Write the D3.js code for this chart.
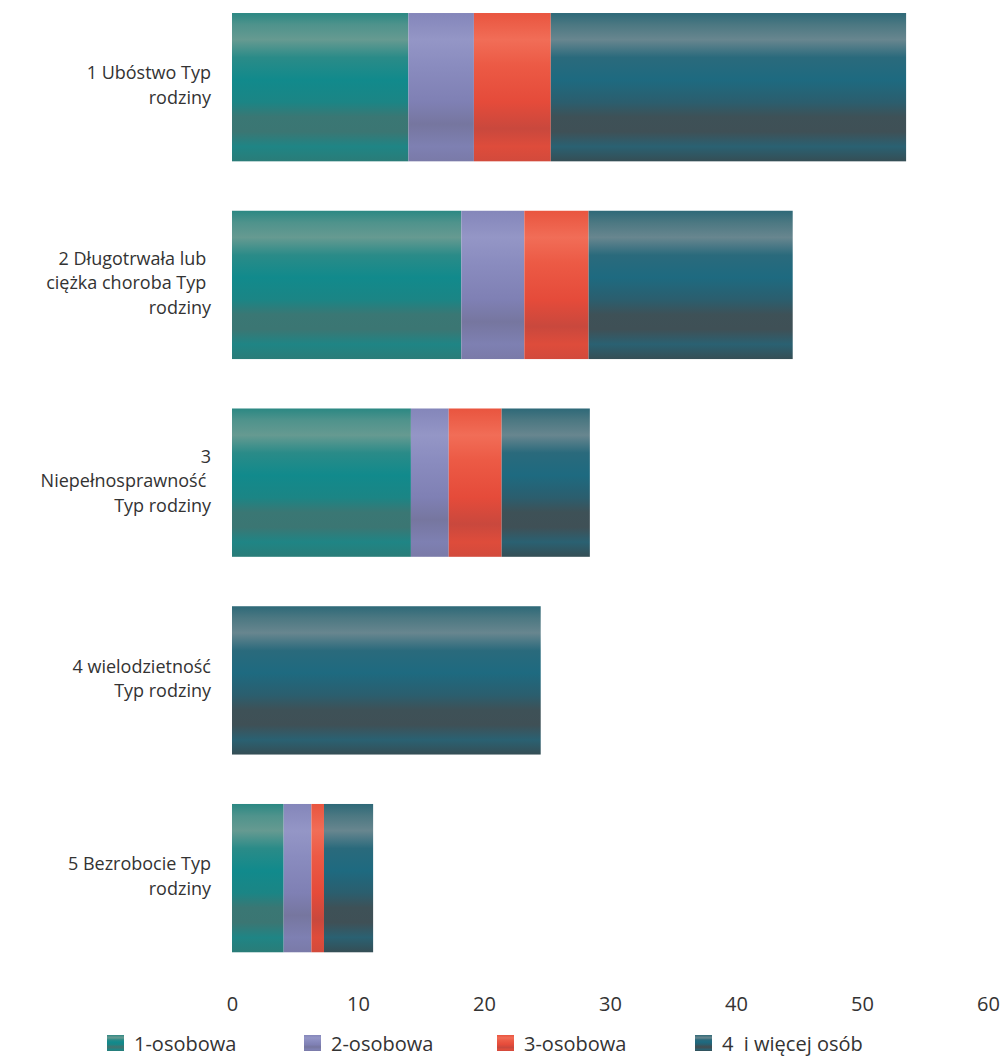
<!DOCTYPE html>
<html><head><meta charset="utf-8">
<script src="https://cdn.jsdelivr.net/npm/d3@7"></script>
<style>body{margin:0;background:#fff} svg text{font-family:"Open Sans",sans-serif;fill:#333}</style>
</head><body><svg id="c" width="1007" height="1062"></svg>
<script>
const categories = ["1 Ubóstwo Typ\nrodziny", "2 Długotrwała lub \nciężka choroba Typ \nrodziny", "3\nNiepełnosprawność \nTyp rodziny", "4 wielodzietność\nTyp rodziny", "5 Bezrobocie Typ\nrodziny"];
const seriesNames = ["1-osobowa", "2-osobowa", "3-osobowa", "4  i więcej osób"];
const s1 = [14.0, 18.2, 14.2, 0, 4.1];
const s2 = [5.2, 5.0, 3.0, 0, 2.2];
const s3 = [6.1, 5.1, 4.2, 0, 1.0];
const s4 = [28.2, 16.2, 7.0, 24.5, 3.9];
const xTicks = [0, 10, 20, 30, 40, 50, 60];

const seriesValues = [s1, s2, s3, s4];
const rows = categories.map((c, i) => {
  const r = {cat: c};
  seriesNames.forEach((s, j) => r[s] = seriesValues[j][i]);
  return r;
});
const stacked = d3.stack().keys(seriesNames)(rows);

const svg = d3.select("#c");
const x = d3.scaleLinear().domain([0, 60]).range([232, 988]);
const y = d3.scaleBand().domain(categories).range([-11.7, 977]).paddingInner(0.25).paddingOuter(0.125);

const gradStops = [
  [["0%","#2b8883"],["8%","#4f938c"],["18%","#669a91"],["30%","#2a8b88"],["45%","#118a8c"],["60%","#1b8585"],["70%","#3a7774"],["80%","#3b7673"],["90%","#1f8585"],["100%","#2a7c78"]],
  [["0%","#8486ba"],["18%","#9496c6"],["35%","#8a8cbf"],["60%","#7f80b4"],["75%","#76769f"],["90%","#7e80b2"],["100%","#7a7aa8"]],
  [["0%","#e9553f"],["18%","#f16d57"],["35%","#ec5a45"],["60%","#e54b3a"],["78%","#c9483d"],["90%","#de4c3b"],["100%","#d24a3c"]],
  [["0%","#2e6978"],["8%","#4c7882"],["18%","#68868f"],["30%","#2a6a7c"],["45%","#1e6a80"],["60%","#2b5e6e"],["70%","#3e5157"],["80%","#3f5056"],["90%","#2a6172"],["100%","#354e55"]]
];
const defs = svg.append("defs");
gradStops.forEach((stops, i) => {
  const g = defs.append("linearGradient").attr("id", "g" + i).attr("x1", 0).attr("x2", 0).attr("y1", 0).attr("y2", 1);
  stops.forEach(s => g.append("stop").attr("offset", s[0]).attr("stop-color", s[1]));
});

svg.append("g").selectAll("g").data(stacked).join("g")
  .attr("fill", (d, i) => `url(#g${i})`)
  .selectAll("rect").data(d => d.filter(v => v[1] - v[0] > 0)).join("rect")
  .attr("x", d => x(d[0]))
  .attr("width", d => x(d[1]) - x(d[0]))
  .attr("y", d => y(d.data.cat))
  .attr("height", y.bandwidth());

// category labels
const lineH = 24.6;
categories.forEach(c => {
  const lines = c.split("\n");
  const cy = y(c) + y.bandwidth() / 2 - 2;
  const t = svg.append("text").attr("text-anchor", "end").style("font-size", "18px")
    .attr("xml:space", "preserve");
  lines.forEach((l, k) => {
    t.append("tspan").attr("x", 211)
      .attr("y", cy + (k - (lines.length - 1) / 2) * lineH + 6.5).text(l);
  });
});

// x axis (labels only)
const ax = svg.append("g").attr("transform", "translate(0,990)")
  .call(d3.axisBottom(x).tickValues(xTicks).tickSize(0).tickPadding(6));
ax.select(".domain").remove();
ax.selectAll("text").style("font-size", "20px").style("fill", "#333").attr("font-family", null).attr("dy", "0.75em");

// legend
const legendX = [107, 304, 497, 695];
const leg = svg.append("g");
seriesNames.forEach((s, i) => {
  leg.append("rect").attr("x", legendX[i]).attr("y", 1035).attr("width", 17).attr("height", 16)
    .attr("fill", `url(#g${i})`);
  leg.append("text").attr("x", legendX[i] + 27).attr("y", 1051).style("font-size", "20px")
    .attr("xml:space", "preserve").text(s);
});
</script></body></html>
